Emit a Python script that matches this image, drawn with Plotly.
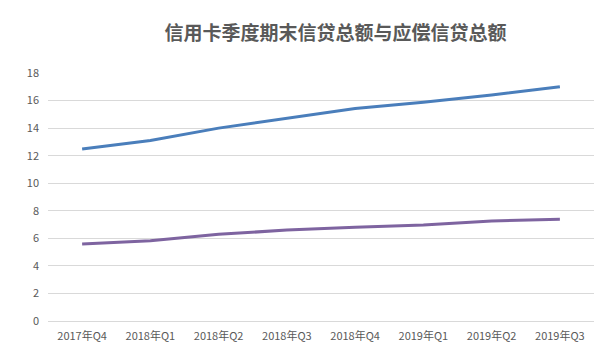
import plotly.graph_objects as go

categories = ["2017年Q4", "2018年Q1", "2018年Q2", "2018年Q3", "2018年Q4", "2019年Q1", "2019年Q2", "2019年Q3"]
credit_total = [12.48, 13.1, 14.0, 14.7, 15.43, 15.87, 16.4, 17.0]
payable_total = [5.59, 5.83, 6.29, 6.6, 6.8, 6.97, 7.26, 7.38]
y_ticks = [0, 2, 4, 6, 8, 10, 12, 14, 16, 18]
title_text = "信用卡季度期末信贷总额与应偿信贷总额"

font_family = "Noto Sans CJK SC, Noto Sans, sans-serif"

fig = go.Figure()
fig.add_trace(go.Scatter(x=categories, y=credit_total, mode="lines", name="信贷总额",
                         line=dict(color="#4A7EBB", width=3)))
fig.add_trace(go.Scatter(x=categories, y=payable_total, mode="lines", name="应偿信贷总额",
                         line=dict(color="#7E64A0", width=3)))

fig.update_layout(
    width=603, height=354,
    margin=dict(l=40, r=17, t=65, b=41),
    paper_bgcolor="white", plot_bgcolor="white",
    showlegend=False,
    title=dict(text="<b>" + title_text + "</b>", x=0.543, xanchor="center", y=0.929, yanchor="middle",
               font=dict(family=font_family, size=19, color="#595959")),
    font=dict(family=font_family, size=11, color="#595959"),
)
fig.update_xaxes(type="category", range=[-0.5, 7.5], showgrid=False, showline=False,
                 zeroline=False, ticks="", ticklabelstandoff=7, tickfont=dict(size=11, color="#595959"))
fig.update_yaxes(range=[0, 18], tickvals=y_ticks, showgrid=True, gridcolor="#D9D9D9", gridwidth=1,
                 zeroline=True, zerolinecolor="#D9D9D9", zerolinewidth=1, showline=False,
                 ticks="", ticklabelstandoff=8, tickfont=dict(size=11, color="#595959"))

fig.write_html("out.html")
